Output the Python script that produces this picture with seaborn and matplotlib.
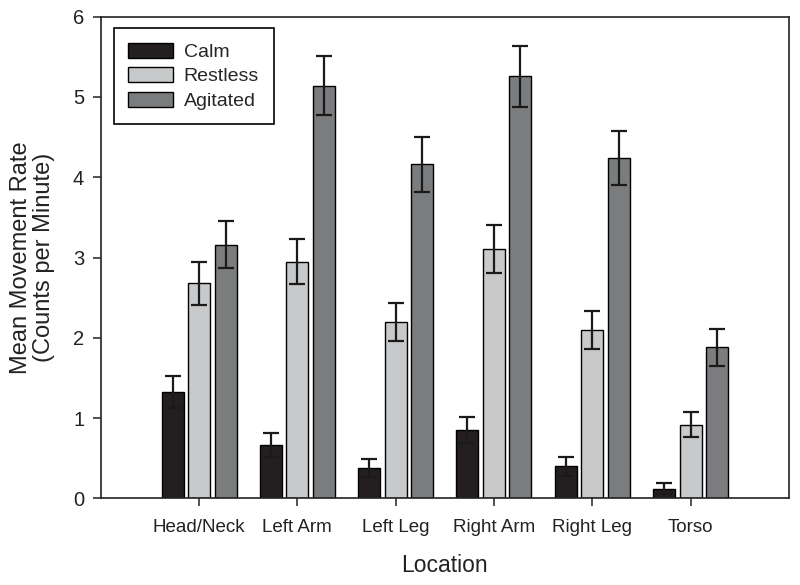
import pandas as pd
import matplotlib
matplotlib.use("Agg")
import matplotlib.pyplot as plt
import seaborn as sns

# values
locations = ["Head/Neck", "Left Arm", "Left Leg", "Right Arm", "Right Leg", "Torso"]
states = ["Calm", "Restless", "Agitated"]
calm_mean = [1.32, 0.67, 0.38, 0.85, 0.40, 0.12]
calm_err = [0.20, 0.15, 0.11, 0.16, 0.12, 0.07]
restless_mean = [2.68, 2.95, 2.20, 3.11, 2.10, 0.92]
restless_err = [0.27, 0.28, 0.24, 0.30, 0.24, 0.16]
agitated_mean = [3.16, 5.14, 4.16, 5.26, 4.24, 1.88]
agitated_err = [0.29, 0.37, 0.34, 0.38, 0.34, 0.23]

palette = {"Calm": "#231f20", "Restless": "#c8c9cb", "Agitated": "#7b7c7e"}

rows = []
for state, means, errs in [("Calm", calm_mean, calm_err),
                           ("Restless", restless_mean, restless_err),
                           ("Agitated", agitated_mean, agitated_err)]:
    for loc, m, e in zip(locations, means, errs):
        rows.append({"Location": loc, "State": state, "Rate": m, "Err": e})
df = pd.DataFrame(rows)

sns.set_style("ticks")
plt.rcParams["font.family"] = ["Liberation Sans", "DejaVu Sans"]

fig = plt.figure(figsize=(8, 5.85), dpi=100)
ax = fig.add_axes([0.126, 0.148, 0.86, 0.8235])

sns.barplot(data=df, x="Location", y="Rate", hue="State", order=locations,
            hue_order=states, palette=palette, errorbar=None, width=0.81,
            gap=0.17, edgecolor="black", linewidth=1, saturation=1, ax=ax)

# error bars at the bar centres seaborn placed
for container, state in zip(ax.containers, states):
    sub = df[df["State"] == state].set_index("Location").loc[locations]
    xs = [p.get_x() + p.get_width() / 2 for p in container.patches]
    ax.errorbar(xs, sub["Rate"].values, yerr=sub["Err"].values, fmt="none",
                ecolor="#1a1a1a", elinewidth=1.6, capsize=5.5, capthick=1.6,
                zorder=5)

ax.set_xlim(-1.0, 6.0)
ax.set_ylim(0, 6)
ax.set_yticks(range(0, 7))
for side in ["top", "right", "left", "bottom"]:
    ax.spines[side].set_visible(True)
    ax.spines[side].set_linewidth(1.2)
    ax.spines[side].set_color("#222222")
ax.tick_params(axis="both", direction="out", length=6, width=1.1,
               labelsize=13.5, colors="#222222", pad=5)
ax.tick_params(axis="y", labelsize=14.5, pad=6)
ax.tick_params(axis="x", pad=9)

ax.set_xlabel("Location", fontsize=16.5, labelpad=13, color="#222222")
ax.set_ylabel("Mean Movement Rate\n(Counts per Minute)", fontsize=17,
              labelpad=13, color="#222222", linespacing=1.05)

ax.legend(loc="upper left", bbox_to_anchor=(0.019, 0.976), borderaxespad=0,
          fontsize=14, frameon=True, fancybox=False, edgecolor="black",
          framealpha=1, handlelength=2.3, handleheight=0.8,
          handletextpad=0.55, labelspacing=0.32, borderpad=0.75)
ax.get_legend().get_frame().set_linewidth(1.2)

fig.savefig("out.png", dpi=100)
